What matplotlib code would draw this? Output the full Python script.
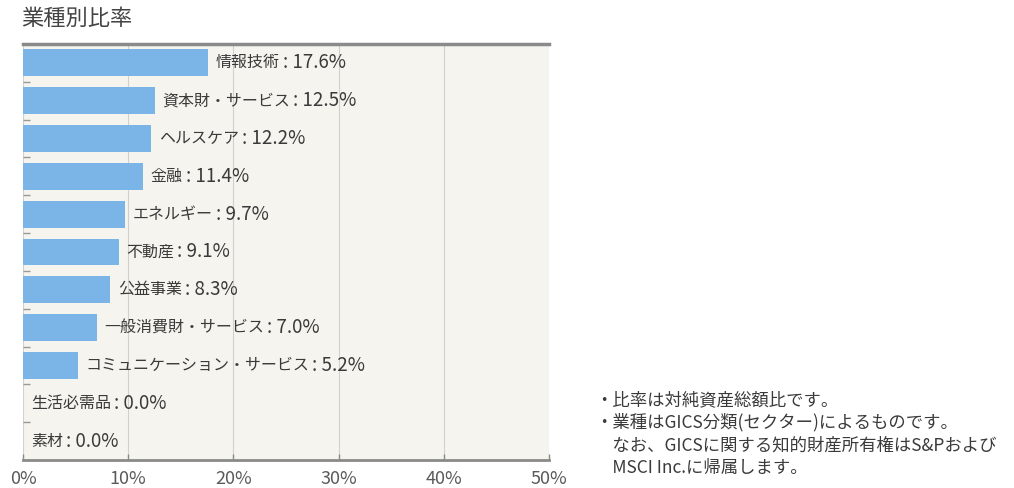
import matplotlib
matplotlib.use("Agg")
import matplotlib.pyplot as plt
import numpy as np

plt.rcParams['font.family'] = ['Noto Sans CJK JP', 'DejaVu Sans']

sectors = ["情報技術", "資本財・サービス", "ヘルスケア", "金融", "エネルギー", "不動産",
           "公益事業", "一般消費財・サービス", "コミュニケーション・サービス", "生活必需品", "素材"]
ratios = [17.6, 12.5, 12.2, 11.4, 9.7, 9.1, 8.3, 7.0, 5.2, 0.0, 0.0]
xticks = [0, 10, 20, 30, 40, 50]
xtick_labels = ["0%", "10%", "20%", "30%", "40%", "50%"]
notes = ["・比率は対純資産総額比です。",
         "・業種はGICS分類(セクター)によるものです。",
         "　なお、GICSに関する知的財産所有権はS&Pおよび",
         "　MSCI Inc.に帰属します。"]

BAR_COLOR = "#7bb4e7"
TEXT_COLOR = "#3a3a3a"
GRAY = "#8a8a8a"

fig = plt.figure(figsize=(10.14, 4.88), dpi=100)
ax = fig.add_axes([0.0227, 0.0574, 0.5187, 0.8525])
ax.set_facecolor("#f6f4ee")

y = np.arange(len(sectors))
ax.barh(y, ratios, height=0.71, color=BAR_COLOR, zorder=2)
for yi, name, v in zip(y, sectors, ratios):
    x0 = v + 0.75 if v > 0 else 0.8
    t = ax.text(x0, yi, name, va="center", ha="left",
                fontsize=11.5, color=TEXT_COLOR, zorder=3)
    # value part is drawn a bit larger, like the original
    ax.annotate(f": {v:.1f}%", xy=(1, 0.5), xycoords=t, xytext=(2, 0),
                textcoords="offset points", va="center", ha="left",
                fontsize=13.5, color=TEXT_COLOR, zorder=3)

ax.set_xlim(0, 50)
ax.set_ylim(len(sectors) - 0.5, -0.5)
ax.set_xticks(xticks)
ax.set_xticklabels(xtick_labels, fontsize=13, color="#5a5a5a")
ax.tick_params(axis="x", direction="in", length=4, width=1, color=GRAY, pad=7)
ax.set_yticks([])
ax.set_yticks(np.arange(len(sectors) - 1) + 0.5, minor=True)
ax.tick_params(axis="y", which="minor", direction="in", length=5, width=1, color="#999999")
ax.xaxis.grid(True, color="#d0d0d0", linewidth=0.8, zorder=0)
ax.set_axisbelow(True)

for side in ["left", "right"]:
    ax.spines[side].set_visible(False)
ax.spines["top"].set_color(GRAY)
ax.spines["top"].set_linewidth(2.5)
ax.spines["bottom"].set_color(GRAY)
ax.spines["bottom"].set_linewidth(2)

fig.text(0.021, 0.963, "業種別比率", fontsize=16, color="#444444", ha="left", va="center")

for i, line in enumerate(notes):
    fig.text(0.587, 1 - (400 + i * 22.7) / 488, line, fontsize=12.5, color=TEXT_COLOR,
             ha="left", va="center")

fig.savefig("out.png", dpi=100)
